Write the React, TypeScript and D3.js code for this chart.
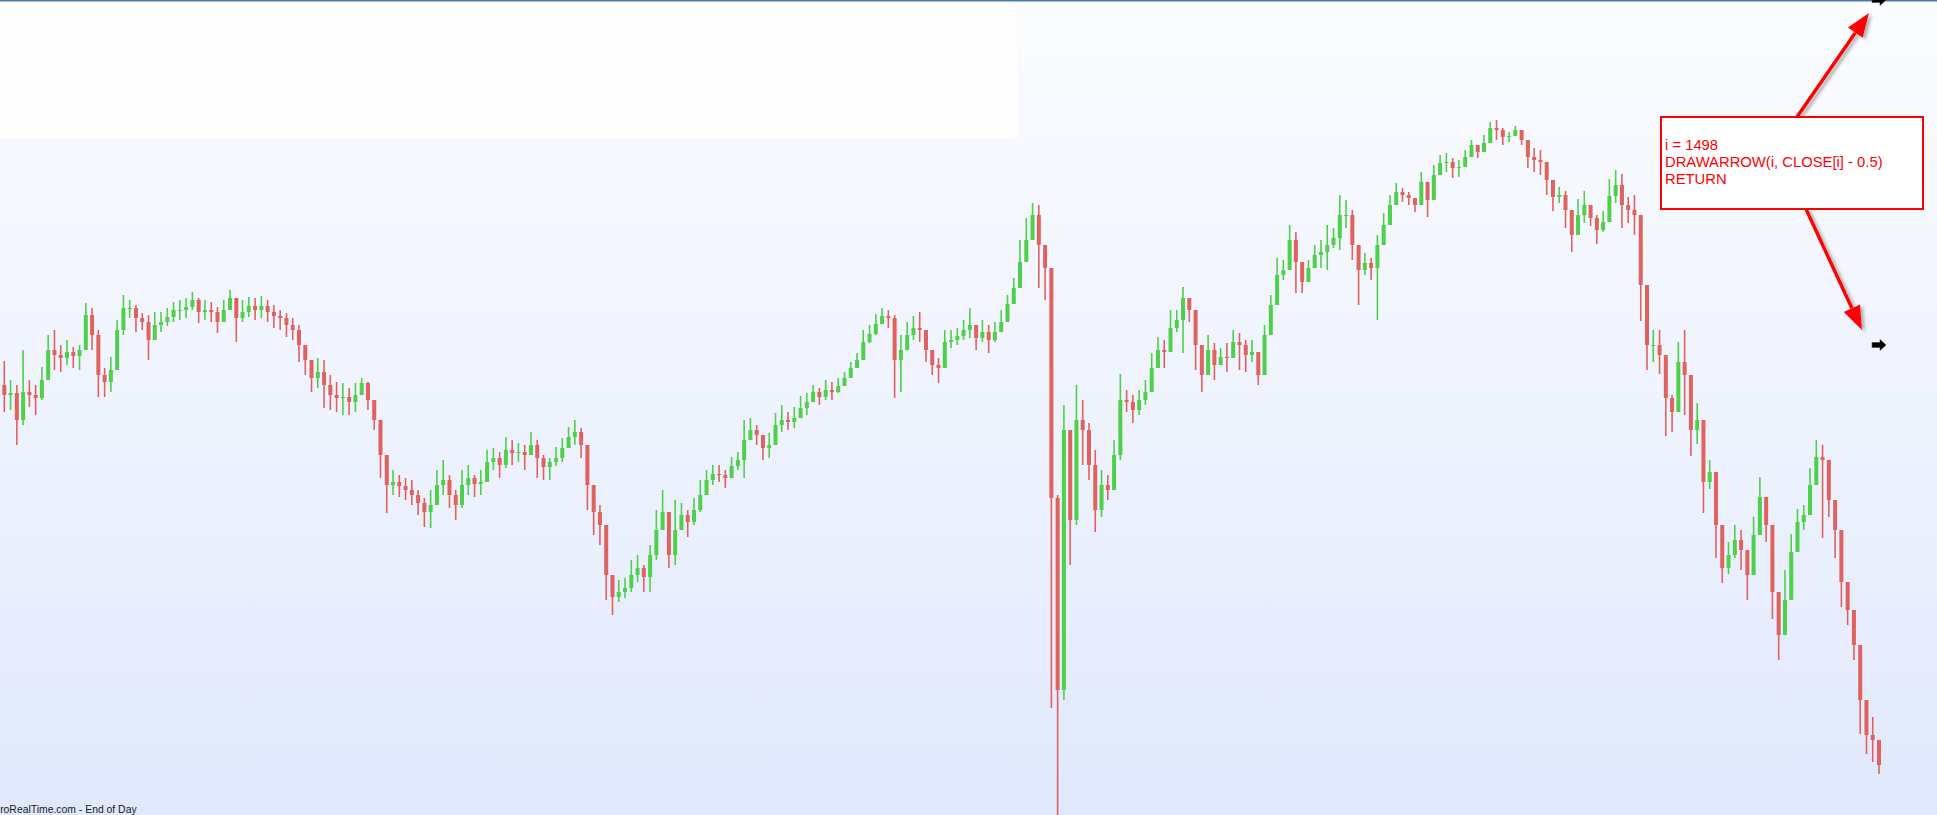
import React from "react";
import * as d3 from "d3";

const W = 1937;
const H = 815;

// Weekly-aggregated OHLC (price units, open = previous close)
const firstOpen = 430;
const close = [
  420, 422, 395, 423, 420, 417, 435, 465, 460, 457,
  463, 459, 465, 500, 480, 440, 433, 445, 485, 507,
  507, 497, 493, 475, 490, 493, 498, 505, 505, 508,
  515, 503, 505, 503, 493, 505, 517, 497, 503, 509,
  505, 509, 503, 499, 497, 490, 485, 470, 455, 437,
  443, 430, 420, 417, 418, 413, 420, 432, 415, 395,
  360, 330, 333, 329, 325, 320, 312, 303, 310, 330,
  335, 320, 310, 330, 337, 331, 333, 353, 357, 350,
  365, 362, 363, 360, 370, 357, 348, 353, 357, 367,
  378, 383, 370, 330, 303, 290, 240, 218, 223, 227,
  240, 247, 238, 260, 285, 303, 260, 285, 300, 293,
  305, 320, 335, 341, 340, 337, 349, 355, 375, 385,
  380, 367, 370, 390, 395, 393, 397, 407, 413, 423,
  418, 425, 423, 429, 437, 447, 455, 473, 481, 491,
  499, 497, 455, 465, 480, 487, 485, 465, 450, 447,
  473, 475, 479, 485, 490, 477, 483, 475, 483, 493,
  511, 527, 553, 575, 600, 570, 547, 317, 125, 385,
  295, 395, 385, 350, 305, 330, 325, 360, 415, 413,
  405, 415, 423, 447, 465, 463, 487, 495, 517, 505,
  470, 440, 465, 450, 458, 457, 473, 470, 460, 463,
  440, 480, 510, 540, 545, 575, 553, 533, 547, 560,
  563, 570, 577, 600, 600, 570, 545, 552, 547, 570,
  590, 610, 623, 620, 617, 610, 633, 615, 640, 652,
  653, 647, 648, 658, 670, 663, 672, 687, 685, 678,
  679, 685, 675, 658, 655, 653, 635, 618, 620, 605,
  580, 600, 610, 597, 585, 593, 619, 630, 610, 605,
  600, 530, 470, 470, 460, 417, 403, 453, 440, 385,
  395, 333, 343, 290, 247, 260, 275, 265, 240, 280,
  318, 290, 223, 180, 215, 263, 293, 300, 330, 358,
  355, 315, 285, 233, 205, 170, 115, 80, 75, 50,
];
const high = [
  454, 435, 430, 465, 435, 430, 448, 480, 485, 470,
  475, 468, 470, 512, 507, 485, 447, 458, 495, 520,
  515, 510, 502, 500, 503, 503, 507, 513, 515, 517,
  523, 517, 515, 513, 508, 515, 525, 512, 515, 518,
  517, 519, 515, 510, 505, 502, 497, 490, 470, 453,
  457, 455, 440, 433, 432, 427, 432, 437, 433, 410,
  395, 360, 345, 340, 337, 335, 325, 317, 325, 345,
  355, 340, 325, 345, 350, 340, 345, 365, 367, 363,
  378, 375, 372, 370, 383, 375, 360, 357, 368, 377,
  388, 395, 387, 360, 325, 310, 260, 233, 235, 237,
  255, 260, 250, 270, 305, 325, 285, 315, 312, 305,
  317, 335, 345, 350, 350, 345, 358, 363, 395, 397,
  390, 380, 382, 402, 410, 403, 408, 419, 422, 430,
  427, 435, 433, 437, 443, 453, 462, 485, 490, 501,
  507, 505, 500, 480, 493, 499, 503, 485, 463, 457,
  485, 485, 487, 495, 507, 490, 495, 490, 493, 505,
  520, 537, 575, 597, 612, 610, 560, 540, 320, 410,
  375, 430, 415, 392, 365, 345, 340, 375, 441, 425,
  420, 425, 435, 462, 478, 475, 505, 505, 528, 517,
  505, 460, 480, 472, 467, 472, 485, 482, 475, 475,
  458, 490, 520, 557, 555, 590, 583, 545, 555, 570,
  575, 590, 587, 620, 615, 605, 565, 562, 557, 580,
  602, 620, 632, 627, 623, 617, 643, 623, 650, 660,
  662, 657, 655, 665, 675, 670, 680, 693, 695, 687,
  683, 689, 685, 668, 667, 665, 650, 632, 628, 624,
  596, 616, 624, 606, 600, 604, 636, 645, 641, 618,
  620, 585, 494, 485, 485, 453, 420, 473, 485, 408,
  412, 375, 355, 330, 261, 273, 290, 285, 261, 298,
  338, 310, 257, 200, 245, 281, 306, 310, 347, 375,
  370, 330, 314, 257, 224, 192, 150, 98, 98, 65,
];
const low = [
  403, 405, 370, 390, 408, 400, 415, 445, 445, 443,
  450, 447, 445, 470, 465, 418, 418, 423, 450, 480,
  497, 483, 485, 455, 477, 483, 489, 493, 495, 497,
  505, 492, 495, 493, 482, 497, 508, 473, 493, 498,
  495, 497, 493, 487, 485, 478, 475, 453, 440, 423,
  427, 407, 405, 403, 400, 400, 403, 422, 405, 385,
  337, 302, 320, 318, 315, 310, 300, 288, 287, 310,
  320, 307, 295, 307, 320, 318, 320, 337, 345, 337,
  347, 350, 353, 345, 360, 337, 335, 335, 349, 353,
  368, 370, 357, 305, 280, 270, 215, 200, 213, 217,
  223, 233, 223, 223, 255, 290, 247, 250, 290, 278,
  290, 303, 325, 330, 333, 327, 337, 345, 337, 375,
  370, 355, 357, 375, 383, 385, 387, 397, 400, 413,
  410, 415, 415, 422, 430, 440, 447, 463, 472, 480,
  492, 487, 417, 423, 465, 475, 473, 453, 440, 432,
  457, 467, 470, 475, 477, 465, 473, 462, 473, 483,
  503, 518, 535, 557, 583, 527, 515, 107, -7, 115,
  250, 290, 350, 335, 283, 298, 315, 333, 355, 403,
  392, 400, 410, 428, 448, 447, 465, 483, 462, 493,
  445, 423, 448, 435, 450, 443, 458, 445, 443, 453,
  430, 460, 492, 525, 535, 558, 522, 522, 538, 548,
  547, 545, 567, 565, 587, 555, 510, 540, 535, 495,
  570, 598, 615, 613, 610, 603, 623, 598, 630, 643,
  643, 637, 638, 650, 663, 657, 665, 680, 675, 670,
  673, 680, 670, 647, 643, 640, 620, 604, 612, 587,
  563, 583, 592, 589, 571, 583, 600, 612, 587, 592,
  580, 494, 445, 453, 441, 379, 383, 416, 400, 359,
  371, 302, 326, 257, 232, 241, 257, 245, 215, 257,
  298, 273, 196, 155, 187, 245, 280, 285, 314, 347,
  277, 298, 257, 208, 190, 155, 81, 61, 53, 41,
];

const arrowBar = 299; // bar i = 1498 (last bar)
const arrowPrices = [815, 470];
const codeLines = ["i = 1498", "DRAWARROW(i, CLOSE[i] - 0.5)", "RETURN"];
const footerText = "ProRealTime.com - End of Day";

const UP = "#4fd04a";
const DOWN = "#e0625f";

function headPoly(sx: number, sy: number, tx: number, ty: number, len: number, half: number) {
  const dx = tx - sx;
  const dy = ty - sy;
  const d = Math.hypot(dx, dy);
  const ux = dx / d;
  const uy = dy / d;
  const bx = tx - ux * len;
  const by = ty - uy * len;
  const px = -uy;
  const py = ux;
  return {
    base: [bx, by],
    pts: `${tx},${ty} ${bx + px * half},${by + py * half} ${bx - px * half},${by - py * half}`,
  };
}

export default function App() {
  const x = d3.scaleLinear().domain([0, close.length - 1]).range([4.3, 1879]);
  const y = d3.scaleLinear().domain([0, 815]).range([H, 0]);

  const bars = close.map((c, i) => {
    const o = i === 0 ? firstOpen : close[i - 1];
    return { i, o, c, h: Math.max(high[i], o, c), l: Math.min(low[i], o, c) };
  });

  const bodyW = 4;

  const boxX = 1661;
  const boxY = 117;
  const boxW = 262;
  const boxH = 92;

  const ax = x(arrowBar);
  const up = { sx: 1797, sy: boxY, tx: ax - 10, ty: y(arrowPrices[0]) + 13 };
  const dn = { sx: 1806, sy: boxY + boxH, tx: ax - 17, ty: y(arrowPrices[1]) - 15 };
  const upHead = headPoly(up.sx, up.sy, up.tx, up.ty, 24, 9);
  const dnHead = headPoly(dn.sx, dn.sy, dn.tx, dn.ty, 24, 9);

  const blackArrow = (cx: number, cy: number, k: number) => (
    <path
      key={k}
      d={`M${cx - 7},${cy - 2.5} L${cx + 1},${cy - 2.5} L${cx + 1},${cy - 5.5} L${cx + 7},${cy} L${cx + 1},${cy + 5.5} L${cx + 1},${cy + 2.5} L${cx - 7},${cy + 2.5} Z`}
      fill="#000"
      stroke="#444"
      strokeWidth={0.6}
    />
  );

  return (
    <svg
      width={W}
      height={H}
      style={{ position: "fixed", left: 0, top: 0, display: "block" }}
      fontFamily="'Liberation Sans', Arial, sans-serif"
    >
      <defs>
        <linearGradient id="bg" x1="0" y1="0" x2="0" y2="1">
          <stop offset="0" stopColor="#fbfcff" />
          <stop offset="0.5" stopColor="#eff3fe" />
          <stop offset="1" stopColor="#e0e8fc" />
        </linearGradient>
        <filter id="shadow" x="-20%" y="-20%" width="140%" height="140%">
          <feDropShadow dx="3" dy="2" stdDeviation="1.6" floodColor="#777" floodOpacity="0.55" />
        </filter>
      </defs>
      <rect x={0} y={0} width={W} height={H} fill="url(#bg)" />
      <rect x={0} y={0} width={1017} height={139} fill="#fefefe" />

      <g>
        {bars.map((b) => {
          const col = b.c >= b.o ? UP : DOWN;
          const cx = x(b.i);
          const top = y(Math.max(b.o, b.c));
          const bot = y(Math.min(b.o, b.c));
          return (
            <g key={b.i}>
              <line x1={cx} x2={cx} y1={y(b.h)} y2={y(b.l)} stroke={col} strokeWidth={1.6} />
              <rect x={cx - bodyW / 2} y={top} width={bodyW} height={Math.max(1, bot - top)} fill={col} />
            </g>
          );
        })}
      </g>

      <rect x={0} y={0} width={W} height={1.5} fill="#4f7aa7" />

      {arrowPrices.map((p, k) => blackArrow(ax, y(p), k))}

      <g filter="url(#shadow)">
        <line x1={up.sx} y1={up.sy} x2={upHead.base[0]} y2={upHead.base[1]} stroke="#ff0000" strokeWidth={3.5} />
        <polygon points={upHead.pts} fill="#ff0000" />
        <line x1={dn.sx} y1={dn.sy} x2={dnHead.base[0]} y2={dnHead.base[1]} stroke="#ff0000" strokeWidth={3.5} />
        <polygon points={dnHead.pts} fill="#ff0000" />
      </g>

      <rect x={boxX} y={boxY} width={boxW} height={boxH} fill="#ffffff" stroke="#ff0000" strokeWidth={2} />
      {codeLines.map((t, k) => (
        <text key={k} x={boxX + 4} y={150 + k * 17} fontSize={14.8} fill="#ff0000">
          {t}
        </text>
      ))}

      <text x={-6.8} y={813} fontSize={10.4} fill="#1a1a1a">
        {footerText}
      </text>
    </svg>
  );
}
